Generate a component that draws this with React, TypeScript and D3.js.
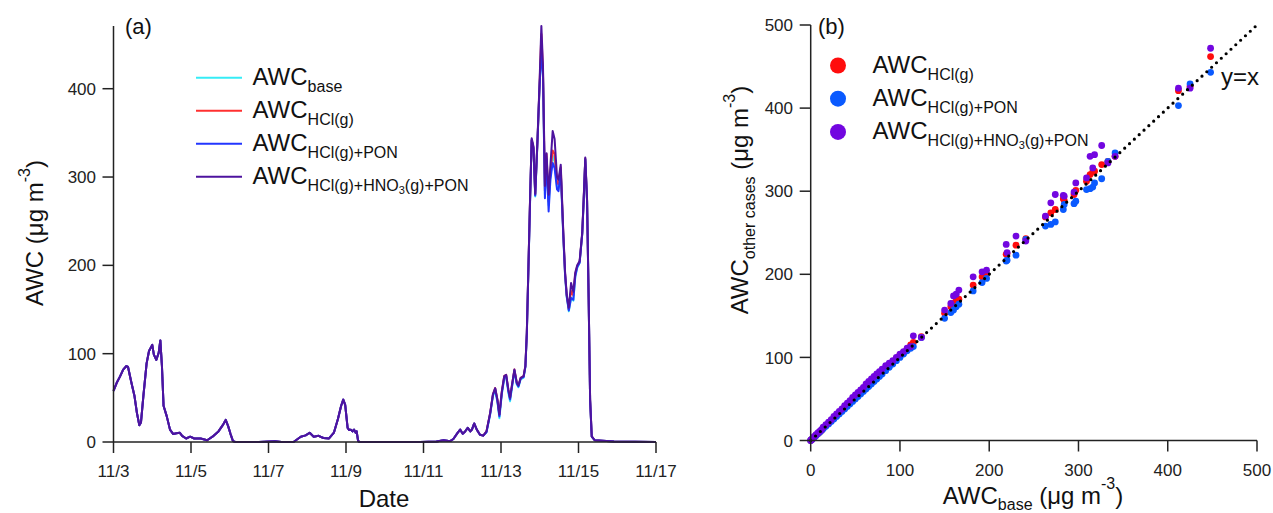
import React from "react";
import * as d3 from "d3";

// ---------- Panel (a): time series (hours since 11/3 00:00) ----------
const earlyHours = [0,2,4,6,8,9,11,13,14.5,16,17,18.5,20.5,22,24,25,26.5,28,29,30,31,33,35,37,39,41,42.5,45,47.5,50,54,58,62,65,68,69.5,71,72.5,74,75.5,90,100,104,111.5,116,119,121.5,124,127,130,133.5,136.5,139,141,142.3,143.5,145,146,147,148,149,150,150.6,151.5,152.5,170,190,200,204.5,208.5,210.5,213,214.7,216.3,217.8,219.4,221,222,223.4,225,227,229];
const earlyValues = [58,67,74,82,86,85,68,52,33,19,22,52,89,103,110,99,93,101,115,86,41,29,14,9,10,10.5,7,4,6,4,4,2,7,12,20,25,18,9,1,0,0,0.8,0,0,6,7.5,10.5,6,7,4.5,4,10.5,26,41,48,42,16,13.5,14,12,14,10.5,12,1,0,0,0,0.5,2,1,3.4,10,14,9.4,12,16,12,14,21,14,8.3,7.2];

const tailHours = [231,233.3,235,236.4,237.8,239,240.5,242,243.2,244.6,245.6,247,248.3,249.8,250.8,252.2,254,255.1,256,257,258,259,260.1,261.2,262.6,263.8,265,266,267.2,268.2,269.5,270.6,272,273.2,274.7,275.6,277,278.6,279.7,280.7,282,283.4,284.8,286,287.2,288.7,290.3,291.2,292.2,293.3,294.3,295.2,296.2,298,310,336];
const tailBase = [11,31,52,58,45,27,54,72,74,55,46,64,80,65,62,71,73,85,122,197,272,341,332,278,340,398,448,415,280,323,268,300,324,318,288,286,308,232,188,164,148,163,160,187,197,203,235,272,320,273,160,47,6,2,0.5,0];
const tailHCl = [12,33,54,61,48,31,57,74.5,76,59,50,67,82,67,64,72.6,74.5,86,124,199,275,342,333,280,341,400,462,420,284,326,272,306,330,326,293,292,311,235,190,166,150,171,166,190,199,204,236,274,321,274,160,48,6.4,2,0.5,0];
const tailPON = [11,32,53,60,46,29,55,73,75,57,48,65,81,66,63,72,73.5,85,123,198,273,342,333,279,341,399,443,416,276,320,261,297,316,310,286,284,306,233,189,165,149,163,161,188,198,203,235,273,320,273,160,47,6,2,0.5,0];
const tailAll = [12,33,54,61,48,31,57,74.5,76,59,50,67,82,67,64,72.6,74.5,86,124,199,275,344,335,281,343,403,471,426,290,327,280,313,352,343,300,297,314,237,192,167,152,180,170,192,200,205,237,275,322,275,161,48,6.4,2,0.5,0];

const dateTickHours = [0,48,96,144,192,240,288,336];
const dateTickLabels = ["11/3","11/5","11/7","11/9","11/11","11/13","11/15","11/17"];
const awcTicksA = [0,100,200,300,400];

// ---------- Panel (b): scatter ----------
const scatterBase = [0,1,2,3,4,6,8,10,12,14,17,20,23,26,29,32,35,38,41,44,47,50,53,56,59,62,65,68,71,74,77,80,84,88,92,96,100,104,108,112,115,124,150,157,160,163,166,182,192,197,219,220,230,241,263,269,274,283,284,295,297,309,313,316,318,326,333,341,412,425,448];
const scatterHCl = [0,1,2,3,4,6,8,10,12,15,18,21,24,27,30,33,36,39,43,46,49,52,55,58,61,64,68,71,74,77,80,83,87,91,95,99,103,106,110,115,118,125,153,161,165,168,170,187,197,200,224,225,235,243,269,274,278,291,289,296,301,312,320,323,324,332,336,342,421,426,462];
const scatterPON = [0,1,2,3,4,6,8,10,12,14,17,20,23,26,29,32,35,38,41,44,47,50,53,56,59,62,65,68,71,74,77,80,84,88,92,96,100,104,108,111,113,124,147,154,157,161,164,180,190,195,216,217,223,242,258,260,263,278,284,285,288,302,303,305,310,315,336,346,403,429,443];
const scatterAll = [0,1,2,3,5,7,9,11,13,16,19,22,25,29,32,35,38,42,45,48,52,55,58,61,64,68,71,74,77,80,83,86,90,93,96,100,104,107,111,113,126,124,157,165,174,176,181,197,203,205,236,226,246,240,270,286,296,295,294,299,310,316,342,328,344,355,334,342,424,424,472];
const ticksB = [0,100,200,300,400,500];

const FONT = "'Liberation Sans', Arial, Helvetica, sans-serif";
const AX = "#222";

export default function App() {
  const xA = d3.scaleLinear().domain([0, 336]).range([113.5, 656]);
  const yA = d3.scaleLinear().domain([0, 471]).range([442, 26]);
  const xB = d3.scaleLinear().domain([0, 500]).range([810.7, 1257]);
  const yB = d3.scaleLinear().domain([0, 500]).range([440.5, 25]);

  const hours = [...earlyHours, ...tailHours];
  const seriesA = [
    { key: "base", color: "#36ecf6", values: [...earlyValues, ...tailBase] },
    { key: "hcl", color: "#ff3030", values: [...earlyValues, ...tailHCl] },
    { key: "pon", color: "#2236ff", values: [...earlyValues, ...tailPON] },
    { key: "all", color: "#4d139e", values: [...earlyValues, ...tailAll] },
  ];
  const line = d3
    .line<[number, number]>()
    .x((d) => xA(d[0]))
    .y((d) => yA(d[1]));

  const seriesB = [
    { key: "hcl", color: "#ff0d0d", values: scatterHCl },
    { key: "pon", color: "#0a5aff", values: scatterPON },
    { key: "all", color: "#7206e0", values: scatterAll },
  ];

  const hno3Sub = (
    <>
      <tspan fontSize={16} dy={7}>HCl(g)+HNO</tspan>
      <tspan fontSize={11} dy={3}>3</tspan>
      <tspan fontSize={16} dy={-3}>(g)+PON</tspan>
    </>
  );
  const legendA = [
    { color: "#36ecf6", sub: <tspan fontSize={16} dy={7}>base</tspan> },
    { color: "#ff3030", sub: <tspan fontSize={16} dy={7}>HCl(g)</tspan> },
    { color: "#2236ff", sub: <tspan fontSize={16} dy={7}>HCl(g)+PON</tspan> },
    { color: "#4d139e", sub: hno3Sub },
  ];
  const legendB = [
    { color: "#ff0d0d", sub: <tspan fontSize={16} dy={7}>HCl(g)</tspan> },
    { color: "#0a5aff", sub: <tspan fontSize={16} dy={7}>HCl(g)+PON</tspan> },
    { color: "#7206e0", sub: hno3Sub },
  ];

  return (
    <svg
      width={1273}
      height={513}
      style={{ position: "absolute", left: 0, top: 0, background: "#fff" }}
      fontFamily={FONT}
    >
      <rect x={0} y={0} width={1273} height={513} fill="#fff" />

      {/* ---------------- Panel (a) ---------------- */}
      <g>
        {seriesA.map((s) => (
          <path
            key={s.key}
            d={line(hours.map((h, i) => [h, s.values[i]] as [number, number])) || ""}
            fill="none"
            stroke={s.color}
            strokeWidth={2}
            strokeLinejoin="round"
          />
        ))}
        <line x1={xA(0)} x2={xA(0)} y1={yA.range()[1]} y2={yA(0)} stroke={AX} strokeWidth={1.5} />
        <line x1={xA(0)} x2={xA(336)} y1={yA(0)} y2={yA(0)} stroke={AX} strokeWidth={1.5} />
        {awcTicksA.map((t) => (
          <g key={t}>
            <line x1={xA(0) - 11} x2={xA(0)} y1={yA(t)} y2={yA(t)} stroke={AX} strokeWidth={1.5} />
            <text x={96} y={yA(t)} dy="0.36em" textAnchor="end" fontSize={17} fill="#222">
              {t}
            </text>
          </g>
        ))}
        {dateTickHours.map((h, i) => (
          <g key={h}>
            <line x1={xA(h)} x2={xA(h)} y1={yA(0)} y2={yA(0) + 11} stroke={AX} strokeWidth={1.5} />
            <text x={xA(h)} y={477} textAnchor="middle" fontSize={17} fill="#222">
              {dateTickLabels[i]}
            </text>
          </g>
        ))}
        <text x={384} y={507} textAnchor="middle" fontSize={24} fill="#111">
          Date
        </text>
        <text transform="translate(43,233) rotate(-90)" textAnchor="middle" fontSize={24} fill="#111">
          AWC (μg m<tspan fontSize={16} dy={-13}>-3</tspan>
          <tspan dy={13}>)</tspan>
        </text>
        <text x={125} y={34} fontSize={22} fill="#111">(a)</text>
        {legendA.map((l, i) => {
          const y = 77.7 + i * 33;
          return (
            <g key={i}>
              <line x1={196} x2={242} y1={y} y2={y} stroke={l.color} strokeWidth={2} />
              <text x={252.5} y={y + 7.5} fontSize={24} fill="#111">
                AWC{l.sub}
              </text>
            </g>
          );
        })}
      </g>

      {/* ---------------- Panel (b) ---------------- */}
      <g>
        {seriesB.map((s) => (
          <g key={s.key}>
            {scatterBase.map((b, i) => (
              <circle key={i} cx={xB(b)} cy={yB(s.values[i])} r={3.4} fill={s.color} />
            ))}
          </g>
        ))}
        <line
          x1={xB(0)}
          y1={yB(0)}
          x2={xB(500)}
          y2={yB(500)}
          stroke="#000"
          strokeWidth={3.2}
          strokeDasharray="0 6.6"
          strokeLinecap="round"
        />
        <line x1={xB(0)} x2={xB(0)} y1={yB(500)} y2={yB(0)} stroke={AX} strokeWidth={1.5} />
        <line x1={xB(0)} x2={xB(500)} y1={yB(0)} y2={yB(0)} stroke={AX} strokeWidth={1.5} />
        {ticksB.map((t) => (
          <g key={t}>
            <line x1={xB(0) - 11} x2={xB(0)} y1={yB(t)} y2={yB(t)} stroke={AX} strokeWidth={1.5} />
            <text x={793} y={yB(t)} dy="0.36em" textAnchor="end" fontSize={17} fill="#222">
              {t}
            </text>
            <line x1={xB(t)} x2={xB(t)} y1={yB(0)} y2={yB(0) + 11} stroke={AX} strokeWidth={1.5} />
            <text x={xB(t)} y={476} textAnchor="middle" fontSize={17} fill="#222">
              {t}
            </text>
          </g>
        ))}
        <text x={1033} y={504} textAnchor="middle" fontSize={24} fill="#111">
          AWC<tspan fontSize={16} dy={6}>base</tspan>
          <tspan dy={-6}> (μg m</tspan>
          <tspan fontSize={16} dy={-15}>-3</tspan>
          <tspan dy={15}>)</tspan>
        </text>
        <text transform="translate(748,200) rotate(-90)" textAnchor="middle" fontSize={24} fill="#111">
          AWC<tspan fontSize={16} dy={7}>other cases</tspan>
          <tspan dy={-7}> (μg m</tspan>
          <tspan fontSize={16} dy={-13}>-3</tspan>
          <tspan dy={13}>)</tspan>
        </text>
        <text x={818} y={34} fontSize={22} fill="#111">(b)</text>
        <text x={1221} y={85} fontSize={24} fill="#111">y=x</text>
        {legendB.map((l, i) => {
          const y = 65.5 + i * 33.2;
          return (
            <g key={i}>
              <circle cx={838} cy={y} r={8} fill={l.color} />
              <text x={872.5} y={y + 7.5} fontSize={24} fill="#111">
                AWC{l.sub}
              </text>
            </g>
          );
        })}
      </g>
    </svg>
  );
}
